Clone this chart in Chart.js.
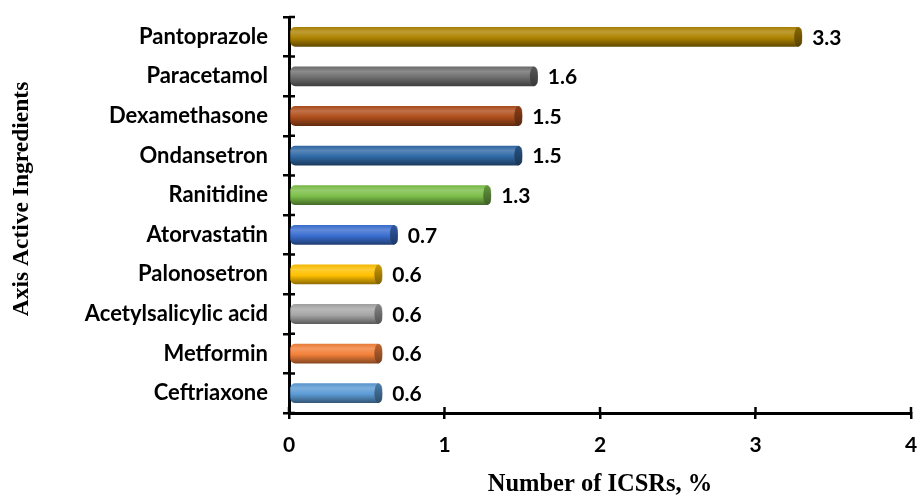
<!DOCTYPE html>
<html>
<head>
<meta charset="utf-8">
<script src="https://cdn.jsdelivr.net/npm/chart.js@4/dist/chart.umd.min.js"></script>
<style>
  html, body { margin: 0; padding: 0; background: #ffffff; }
  #wrap { width: 917px; height: 497px; }
</style>
</head>
<body>
<div id="wrap"><canvas id="c" width="917" height="497"></canvas></div>
<script>
// Active ingredients, top to bottom
const ingredients = [
  'Pantoprazole', 'Paracetamol', 'Dexamethasone', 'Ondansetron', 'Ranitidine',
  'Atorvastatin', 'Palonosetron', 'Acetylsalicylic acid', 'Metformin', 'Ceftriaxone'
];
// Share of ICSRs, %
const icsrShare = [3.3, 1.6, 1.5, 1.5, 1.3, 0.7, 0.6, 0.6, 0.6, 0.6];
// Base colour of each cylinder
const barColors = [
  '#AE8300', '#6E6E6E', '#B04E1C', '#2F69A6', '#7CBE49',
  '#3A6ED0', '#FFC000', '#A6A6A6', '#F2803A', '#5B9BD5'
];
const xTicks = [0, 1, 2, 3, 4];

const yLabelFont = { family: 'Lato', weight: 'bold', size: 22 };
const numFont = { family: 'Lato', weight: 'bold', size: 21 };
const xTitleFont = { family: 'Liberation Serif', weight: 'bold', size: 24.5, lineHeight: 1 };
const yTitleFont = { family: 'Liberation Serif', weight: 'bold', size: 23.5 };
const yTitleText = 'Axis Active Ingredients';

function mix(hex, target, t) {
  const n = parseInt(hex.slice(1), 16);
  const r = (n >> 16) & 255, g = (n >> 8) & 255, b = n & 255;
  const m = v => Math.round(v + (target - v) * t);
  return `rgb(${m(r)},${m(g)},${m(b)})`;
}

const BAR_FRACTION = 0.5;

// Vertical shading that gives each bar its rounded, cylindrical look
function cylinderFill(ctx) {
  const base = barColors[ctx.dataIndex];
  const chart = ctx.chart;
  const y = chart.scales && chart.scales.y;
  if (ctx.type !== 'data' || !y || !isFinite(y.getPixelForValue(ctx.dataIndex))) return base;
  const cy = y.getPixelForValue(ctx.dataIndex);
  const band = Math.abs(y.getPixelForValue(1) - y.getPixelForValue(0));
  const half = band * BAR_FRACTION / 2;
  const g = chart.ctx.createLinearGradient(0, cy - half, 0, cy + half);
  g.addColorStop(0, mix(base, 0, 0.05));
  g.addColorStop(0.25, mix(base, 255, 0.2));
  g.addColorStop(0.55, base);
  g.addColorStop(1, mix(base, 0, 0.45));
  return g;
}

// Dark elliptical face at the end of each cylinder, plus the value labels
const cylinderCaps = {
  id: 'cylinderCaps',
  afterDatasetsDraw(chart) {
    const c = chart.ctx;
    const meta = chart.getDatasetMeta(0);
    meta.data.forEach((el, i) => {
      const { x, y, height } = el.getProps(['x', 'y', 'height'], true);
      const ry = height / 2, rx = height * 0.2;
      const base = barColors[i];
      const g = c.createLinearGradient(0, y - ry, 0, y + ry);
      g.addColorStop(0, mix(base, 0, 0.2));
      g.addColorStop(1, mix(base, 0, 0.5));
      c.save();
      c.beginPath();
      c.ellipse(x - rx, y, rx, ry, 0, 0, Math.PI * 2);
      c.fillStyle = g;
      c.fill();
      c.restore();

      c.save();
      c.font = `${numFont.weight} ${numFont.size}px ${numFont.family}`;
      c.fillStyle = '#000';
      c.textAlign = 'left';
      c.textBaseline = 'middle';
      c.fillText(String(icsrShare[i]), x + 10, y + 1);
      c.restore();
    });
  }
};

// Tick marks cross both axis lines; the library draws the outer half, this adds the inner half.
// The vertical axis title sits a little above the middle of the plot.
const axisExtras = {
  id: 'axisExtras',
  afterDraw(chart) {
    const c = chart.ctx, xs = chart.scales.x, ys = chart.scales.y;
    const len = 6;
    c.save();
    c.strokeStyle = '#000';
    c.lineWidth = 2.5;
    c.beginPath();
    const band = Math.abs(ys.getPixelForValue(1) - ys.getPixelForValue(0));
    for (let i = 0; i <= ingredients.length; i++) {
      const py = ys.getPixelForValue(i) - band / 2;
      c.moveTo(ys.right, py);
      c.lineTo(ys.right + len, py);
    }
    xTicks.forEach(v => {
      const px = xs.getPixelForValue(v);
      c.moveTo(px, xs.top);
      c.lineTo(px, xs.top - len);
    });
    c.stroke();
    c.restore();

    const area = chart.chartArea;
    c.save();
    c.translate(22, (area.top + area.bottom) / 2 - 16);
    c.rotate(-Math.PI / 2);
    c.font = `${yTitleFont.weight} ${yTitleFont.size}px "${yTitleFont.family}"`;
    c.fillStyle = '#000';
    c.textAlign = 'center';
    c.textBaseline = 'middle';
    c.fillText(yTitleText, 0, 0);
    c.restore();
  }
};

new Chart(document.getElementById('c'), {
  type: 'bar',
  data: {
    labels: ingredients,
    datasets: [{
      data: icsrShare,
      backgroundColor: cylinderFill,
      borderWidth: 0,
      borderRadius: 5,
      borderSkipped: false,
      categoryPercentage: 1,
      barPercentage: BAR_FRACTION
    }]
  },
  options: {
    indexAxis: 'y',
    responsive: false,
    animation: false,
    layout: { padding: { top: 17, right: 6, left: 0, bottom: 0 } },
    plugins: { legend: { display: false }, tooltip: { enabled: false } },
    scales: {
      x: {
        min: 0, max: 4,
        afterFit(s) { s.height = 84; s.paddingLeft = 0; s.paddingRight = 0; },
        afterBuildTicks(s) { s.ticks = xTicks.map(v => ({ value: v })); },
        ticks: { color: '#000', font: numFont, padding: 14 },
        grid: { display: true, drawOnChartArea: false, drawTicks: true, tickLength: 6, color: '#000', lineWidth: 2.5 },
        border: { display: true, color: '#000', width: 3 },
        title: { display: true, text: 'Number of ICSRs, %', color: '#000', font: xTitleFont, padding: { top: 0, bottom: 0 } }
      },
      y: {
        afterFit(s) { s.width = 289; s.paddingTop = 0; s.paddingBottom = 0; },
        ticks: { color: '#000', font: yLabelFont, padding: 15 },
        grid: { display: true, drawOnChartArea: false, drawTicks: true, tickLength: 6, color: '#000', lineWidth: 2.5, offset: true },
        border: { display: true, color: '#000', width: 3 },
        title: { display: false }
      }
    }
  },
  plugins: [cylinderCaps, axisExtras]
});
</script>
</body>
</html>
